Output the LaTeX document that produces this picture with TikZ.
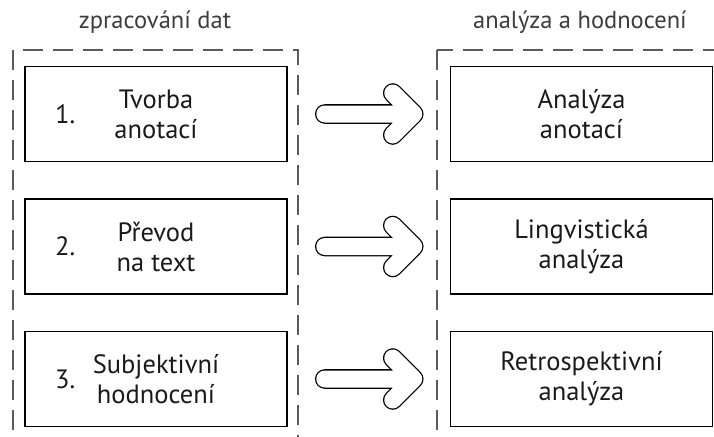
\documentclass[tikz,border=0pt]{standalone}
\usepackage{fontspec}
\setmainfont{PT Sans}
\usetikzlibrary{positioning}
\definecolor{grpgray}{HTML}{5A5A5A}
\definecolor{headgray}{HTML}{3C3C3C}
\definecolor{txtblack}{HTML}{1A1A1A}

\begin{document}
\begin{tikzpicture}[
    x=1pt, y=-1pt,
    node distance=36pt and 162pt,
    stepbox/.style={draw=black, line width=1.5pt, minimum width=262pt, minimum height=95pt, align=center, inner sep=0pt, text=txtblack, font=\fontsize{26.5}{30}\selectfont},
    numlbl/.style={text=txtblack, inner sep=0pt, font=\fontsize{26.5}{30}\selectfont},
    headlbl/.style={text=headgray, inner sep=0pt, font=\fontsize{24.5}{30}\selectfont},
    grp/.style={draw=grpgray, line width=1.3pt, dash pattern=on 20pt off 10pt},
    flowline/.style={draw=white, line width=17pt, line cap=round, line join=round, preaction={draw=black, line width=19.6pt, line cap=round, line join=round}}
  ]
    \useasboundingbox (0,0) rectangle (714,436);
    \clip (0,0) rectangle (714,436);

    % groups
    \draw[grp] (13,50) rectangle (298,470);
    \draw[grp] (437,50) rectangle (760,470);
    \node[headlbl] (hleft) at (155,22) {zpracování dat};
    \node[headlbl] (hright) at (580,22) {analýza a hodnocení};

    % left column
    \node[stepbox] (tvorba) at (156,114) {Tvorba\\anotací};
    \node[stepbox, below=of tvorba] (prevod) {Převod\\na text};
    \node[stepbox, below=of prevod] (subj) {Subjektivní\\hodnocení};
    \node[numlbl] (n1) at ([xshift=41pt]tvorba.west) {1.};
    \node[numlbl] (n2) at ([xshift=41pt]prevod.west) {2.};
    \node[numlbl] (n3) at ([xshift=41pt]subj.west) {3.};

    % right column
    \node[stepbox, right=of tvorba] (anal) {Analýza\\anotací};
    \node[stepbox, right=of prevod] (ling) {Lingvistická\\analýza};
    \node[stepbox, right=of subj] (retro) {Retrospektivní\\analýza};

    % arrows
    \foreach \a/\b in {tvorba/anal, prevod/ling, subj/retro} {
      \coordinate (\a-s) at ([xshift=37pt]\a.east);
      \coordinate (\a-t) at ([xshift=-36pt]\b.west);
      \path[flowline] (\a-s) -- (\a-t)
        ([shift={(-21pt,-21pt)}]\a-t) -- (\a-t) -- ([shift={(-21pt,21pt)}]\a-t);
    }
\end{tikzpicture}
\end{document}
